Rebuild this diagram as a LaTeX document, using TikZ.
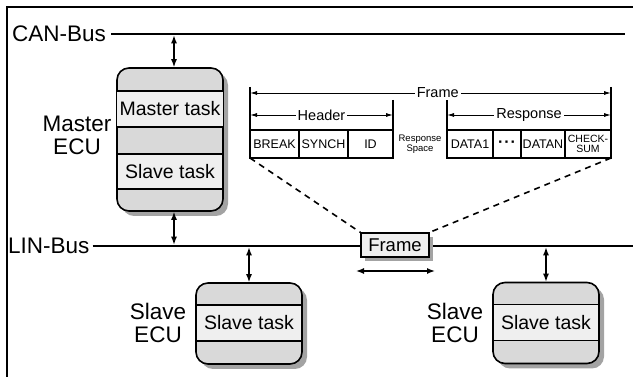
\documentclass[tikz,border=0pt]{standalone}
\usepackage{fontspec}
\setmainfont{Liberation Sans}
\usetikzlibrary{positioning,arrows.meta}

\definecolor{ecugray}{HTML}{D9D9D9}
\definecolor{tasklight}{HTML}{EFEFEF}
\definecolor{shadowgray}{HTML}{A3A3A3}

\begin{document}
\begin{tikzpicture}[
    x=1pt, y=-1pt,
    ecubox/.style={
        draw,
        line width=1.6pt,
        rounded corners=12pt,
        fill=ecugray,
        minimum width=106pt,
        preaction={fill=shadowgray, transform canvas={shift={(5pt,-5pt)}}}
    },
    taskband/.style={
        draw,
        line width=1.1pt,
        fill=tasklight,
        minimum width=106pt,
        minimum height=36pt,
        font=\fontsize{19.5}{19.5}\selectfont
    },
    biglabel/.style={
        font=\fontsize{22.5}{23}\selectfont,
        align=center,
        inner sep=0pt
    },
    field/.style={
        draw,
        line width=1.2pt,
        inner sep=0pt,
        outer sep=0pt,
        minimum height=28pt,
        font=\fontsize{12.5}{12.5}\selectfont
    },
    framebox/.style={
        draw,
        line width=1.3pt,
        fill=tasklight,
        minimum width=68pt,
        minimum height=24pt,
        font=\fontsize{18.5}{18.5}\selectfont,
        preaction={fill=shadowgray, transform canvas={shift={(4pt,-4pt)}}}
    },
    bus/.style={line width=2.6pt},
    busarrow/.style={{Latex[length=8pt,width=6pt]}-{Latex[length=8pt,width=6pt]}, line width=1.4pt},
    dimarrow/.style={{Latex[length=7pt,width=4pt]}-{Latex[length=7pt,width=4pt]}, line width=0.9pt},
    dimbar/.style={line width=1.8pt},
    dimlabel/.style={fill=white, inner sep=2pt, font=\fontsize{14.5}{14.5}\selectfont},
    dashline/.style={dashed, dash pattern=on 6pt off 5pt, line width=1.6pt}
]
\useasboundingbox (0,0) rectangle (633,377);

% outer frame
\draw[line width=2.2pt] (7,377) -- (7,7) -- (633,7);

% buses
\node[biglabel, anchor=west] (canbus) at (12,34) {CAN-Bus};
\coordinate (canend) at (625,34);
\draw[bus] ([xshift=5pt]canbus.east) -- (canend);

\node[biglabel, anchor=west] (linbus) at (8,246) {LIN-Bus};
\coordinate (linend) at (633,246);
\draw[bus] ([xshift=3pt]linbus.east) -- (linend);

% master ECU
\node[ecubox, minimum height=143pt] (master) at (170,139.5) {};
\node[taskband] (mtask) at (170,109) {Master task};
\node[taskband, minimum height=35pt] (mslave) at (170,171.5) {Slave task};
\node[biglabel] (masterlbl) at (77,135) {Master\\ECU};

% slave ECUs
\node[ecubox, minimum height=81pt] (slave1) at (249,323.5) {};
\node[taskband] (s1task) at (249,323) {Slave task};
\node[biglabel] (slave1lbl) at (158,322.5) {Slave\\ECU};

\node[ecubox, minimum height=81pt] (slave2) at (546,323) {};
\node[taskband] (s2task) at (546,322.5) {Slave task};
\node[biglabel] (slave2lbl) at (455,322.5) {Slave\\ECU};

% bus connections
\draw[busarrow, shorten <=1.3pt] ([xshift=4pt]master.north |- canend) -- ([xshift=4pt]master.north);
\draw[busarrow, shorten >=1.3pt] ([xshift=4pt]master.south) -- ([xshift=4pt]master.south |- linend);
\draw[busarrow, shorten <=1.3pt] (slave1.north |- linend) -- (slave1.north);
\draw[busarrow, shorten <=1.3pt] (slave2.north |- linend) -- (slave2.north);

% frame on the LIN bus
\node[framebox] (fbox) at (395,245) {Frame};
\coordinate (shiftL) at (356,271);
\coordinate (shiftR) at (435,271);
\draw[busarrow] (shiftL) -- (shiftR);

% frame layout
\node[field, minimum width=49pt, anchor=north west] (break) at (250,130) {BREAK};
\node[field, minimum width=49pt, right=0pt of break] (synch) {SYNCH};
\node[field, minimum width=45pt, right=0pt of synch] (id) {ID};
\node[font=\fontsize{9.5}{9.5}\selectfont, align=center, inner sep=0pt] (respspace) at (420,144) {Response\\Space};
\node[field, minimum width=46pt, anchor=north west] (data1) at (447,130) {DATA1};
\node[field, minimum width=28pt, right=0pt of data1, font=\fontsize{16}{16}\bfseries] (dots) {·\hspace{1pt}·\hspace{1pt}·};
\node[field, minimum width=44pt, right=0pt of dots] (datan) {DATAN};
\node[field, minimum width=46pt, right=0pt of datan, align=center,
    font=\fontsize{10.5}{10}\selectfont] (checksum) {CHECK-\\SUM};

\coordinate (frameL) at (250,87);
\coordinate (frameR) at (611,87);
\coordinate (headR) at (393,100);
\coordinate (respL) at (447,100);
\draw[dimbar] (frameL) -- (break.north west);
\draw[dimbar] (frameR) -- (checksum.north east);
\draw[dimbar] (headR) -- (id.north east);
\draw[dimbar] (respL) -- (data1.north west);

\draw[dimarrow] ([yshift=-6pt]frameL) -- node[dimlabel, pos=0.52] {Frame} ([yshift=-6pt]frameR);
\draw[dimarrow] ([yshift=15pt]break.north west) -- node[dimlabel] {Header} ([yshift=-15pt]headR);
\draw[dimarrow] ([yshift=-15pt]respL) -- node[dimlabel] {Response} ([yshift=15pt]checksum.north east);

% zoom lines
\draw[dashline] (break.south west) -- (fbox.north west);
\draw[dashline] (checksum.south east) -- (fbox.north east);

\end{tikzpicture}
\end{document}
